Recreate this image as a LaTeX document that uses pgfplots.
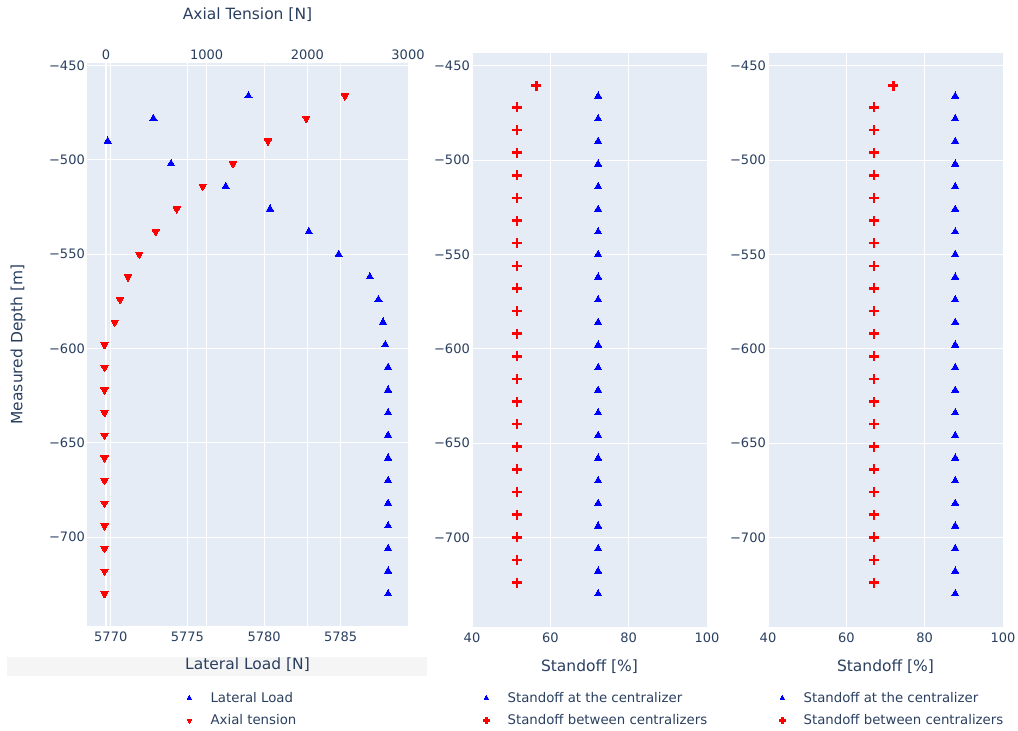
\documentclass[border=0pt]{standalone}
\usepackage{pgfplots}
\pgfplotsset{compat=1.18}
\usepackage{pgfplotstable}
\usepackage{fontspec}
\setmainfont{DejaVu Sans}
\definecolor{plotbg}{RGB}{229,236,246}
\definecolor{txt}{RGB}{42,63,95}
\definecolor{band}{RGB}{245,245,245}
\definecolor{mblue}{RGB}{0,0,255}
\definecolor{mred}{RGB}{255,0,0}
\newcommand\titlefont{\fontsize{15.5}{18}\selectfont}

\pgfplotstableread{
depth lateral axial
-466 5778.98 2373
-478 5772.78 1989
-490 5769.80 1609
-502 5773.93 1261
-514 5777.50 960
-526 5780.39 702
-538 5782.92 493
-550 5784.87 331
-562 5786.90 218
-574 5787.46 139
-586 5787.76 86
-598 5787.91 -15
-610 5788.09 -15
-622 5788.09 -15
-634 5788.09 -15
-646 5788.09 -15
-658 5788.09 -15
-670 5788.09 -15
-682 5788.09 -15
-694 5788.09 -15
-706 5788.09 -15
-718 5788.09 -15
-730 5788.09 -15
}\leftdata

\pgfplotstableread{
depth sA sB
-466 72.2 87.8
-478 72.2 87.8
-490 72.2 87.8
-502 72.2 87.8
-514 72.2 87.8
-526 72.2 87.8
-538 72.2 87.8
-550 72.2 87.8
-562 72.2 87.8
-574 72.2 87.8
-586 72.2 87.8
-598 72.2 87.8
-610 72.2 87.8
-622 72.2 87.8
-634 72.2 87.8
-646 72.2 87.8
-658 72.2 87.8
-670 72.2 87.8
-682 72.2 87.8
-694 72.2 87.8
-706 72.2 87.8
-718 72.2 87.8
-730 72.2 87.8
}\centdata

\pgfplotstableread{
depth sA sB
-460.5 56.4 72.0
-472 51.5 67.1
-484 51.5 67.1
-496 51.5 67.1
-508 51.5 67.1
-520 51.5 67.1
-532 51.5 67.1
-544 51.5 67.1
-556 51.5 67.1
-568 51.5 67.1
-580 51.5 67.1
-592 51.5 67.1
-604 51.5 67.1
-616 51.5 67.1
-628 51.5 67.1
-640 51.5 67.1
-652 51.5 67.1
-664 51.5 67.1
-676 51.5 67.1
-688 51.5 67.1
-700 51.5 67.1
-712 51.5 67.1
-724 51.5 67.1
}\betwdata

\pgfplotsset{
  set layers,
  plotly/.style={
    scale only axis,
    anchor=south west,
    axis line style={draw=none},
    major tick length=0pt,
    tick label style={font=\fontsize{13}{15}\selectfont, text=txt, inner sep=0pt},
    xticklabel style={yshift=-6pt},
    yticklabel style={xshift=-2pt},
    major grid style={white, line width=1pt},
    legend style={draw=none, fill=none, font=\fontsize{13.3}{16}\selectfont, text=txt,
      row sep=7pt, inner sep=0pt, anchor=north west},
    legend cell align=left,
    legend image code/.code={\path (0pt,0pt) (27pt,0pt); \draw[##1] plot coordinates {(8pt,0pt)};},
    legend image post style={/tikz/every mark/.append style={scale=0.65}},
  },
  ytickstd/.style={
    ytick={-700,-650,-600,-550,-500,-450},
    yticklabels={−700,−650,−600,−550,−500,−450},
  },
  triup/.style={only marks, mark=triangle*, mark size=4.2pt, mblue, mark options={fill=mblue, draw=mblue, line width=0pt}},
  tridown/.style={only marks, mark=triangle*, mark size=4.2pt, mred, mark options={rotate=180, fill=mred, draw=mred, line width=0pt}},
  crossm/.style={only marks, mark=+, mark size=5pt, mred, mark options={draw=mred, line width=2.6pt}},
}

\begin{document}
\begin{tikzpicture}[x=1pt,y=1pt]
\path (0,0) rectangle (1018,731);
\fill[band] (7,55) rectangle (427,74);

% ---------- Left panel: bottom axis (Lateral Load) ----------
\begin{axis}[plotly, ytickstd,
  at={(87pt,105pt)}, width=321pt, height=563pt,
  axis background/.style={fill=plotbg},
  xmin=5768.45, xmax=5789.39, ymin=-747.1, ymax=-448.6,
  xtick={5770,5775,5780,5785}, xticklabels={5770,5775,5780,5785},
  xticklabel pos=lower,
  xmajorgrids, ymajorgrids,
  xlabel={Lateral Load [N]},
  ylabel={Measured Depth [m]},
  every axis x label/.style={at={([yshift=-39pt]axis description cs:0.5,0)}, anchor=center, font=\titlefont, text=txt},
  every axis y label/.style={at={([xshift=-69pt]axis description cs:0,0.5)}, rotate=90, anchor=center, font=\titlefont, text=txt},
]
\addplot[triup] table[x=lateral, y=depth] {\leftdata};
\end{axis}

% ---------- Left panel: top axis (Axial Tension) ----------
\begin{axis}[plotly,
  at={(87pt,105pt)}, width=321pt, height=563pt,
  xmin=-189, xmax=3000, ymin=-747.1, ymax=-448.6,
  xtick={1000,2000,3000}, xticklabels={1000,2000,3000},
  extra x ticks={0}, extra x tick labels={0},
  extra x tick style={major grid style={white, line width=2pt}},
  xticklabel pos=upper,
  xticklabel style={yshift=9pt},
  xmajorgrids, ytick=\empty,
  xlabel={Axial Tension [N]},
  every axis x label/.style={at={([yshift=48pt]axis description cs:0.5,1)}, anchor=center, font=\titlefont, text=txt},
  legend style={at={(axis description cs:0.2928,-0.1137)}},
]
\addlegendimage{triup}
\addlegendentry{Lateral Load}
\addplot[tridown] table[x=axial, y=depth] {\leftdata};
\addlegendentry{Axial tension}
\end{axis}

% ---------- Middle panel ----------
\begin{axis}[plotly, ytickstd,
  at={(472pt,104pt)}, width=235pt, height=574pt,
  axis background/.style={fill=plotbg},
  xmin=40, xmax=100, ymin=-747.6, ymax=-443.1,
  xtick={40,60,80,100}, xticklabels={40,60,80,100},
  xmajorgrids, ymajorgrids,
  xlabel={Standoff [\%]},
  every axis x label/.style={at={([yshift=-40pt]axis description cs:0.5,0)}, anchor=center, font=\titlefont, text=txt},
  legend style={at={(axis description cs:0.0255,-0.1098)}},
]
\addplot[triup] table[x=sA, y=depth] {\centdata};
\addlegendentry{Standoff at the centralizer}
\addplot[crossm] table[x=sA, y=depth] {\betwdata};
\addlegendentry{Standoff between centralizers}
\end{axis}

% ---------- Right panel ----------
\begin{axis}[plotly, ytickstd,
  at={(768pt,104pt)}, width=235pt, height=574pt,
  axis background/.style={fill=plotbg},
  xmin=40, xmax=100, ymin=-747.6, ymax=-443.1,
  xtick={40,60,80,100}, xticklabels={40,60,80,100},
  xmajorgrids, ymajorgrids,
  xlabel={Standoff [\%]},
  every axis x label/.style={at={([yshift=-40pt]axis description cs:0.5,0)}, anchor=center, font=\titlefont, text=txt},
  legend style={at={(axis description cs:0.0255,-0.1098)}},
]
\addplot[triup] table[x=sB, y=depth] {\centdata};
\addlegendentry{Standoff at the centralizer}
\addplot[crossm] table[x=sB, y=depth] {\betwdata};
\addlegendentry{Standoff between centralizers}
\end{axis}
\end{tikzpicture}
\end{document}
